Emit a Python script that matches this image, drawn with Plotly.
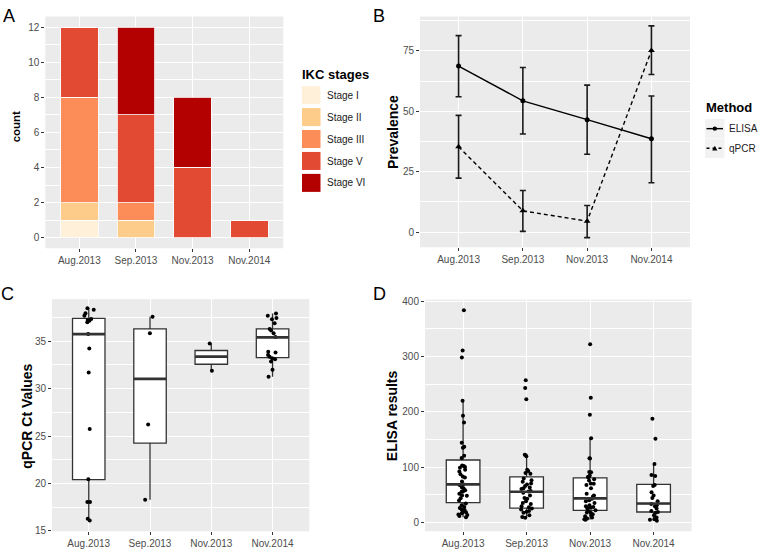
import plotly.graph_objects as go

W, H = 760, 554
FONT = "Liberation Sans, Arial, sans-serif"

# ---------------- data ----------------
periods = ["Aug.2013", "Sep.2013", "Nov.2013", "Nov.2014"]
xpos = [1, 2, 3, 4]

# Panel A: IKC stage counts per period
stage_names = ["Stage I", "Stage II", "Stage III", "Stage V", "Stage VI"]
stage_colors = ["#FEF0D9", "#FDCC8A", "#FC8D59", "#E34A33", "#B30000"]
stage1 = [1, 0, 0, 0]
stage2 = [1, 1, 0, 0]
stage3 = [6, 1, 0, 0]
stage5 = [4, 5, 4, 1]
stage6 = [0, 5, 4, 0]

# Panel B: prevalence with confidence intervals
elisa_prev = [68.7, 54.3, 46.5, 38.6]
elisa_lo = [56.0, 40.6, 32.2, 20.4]
elisa_hi = [81.3, 68.1, 60.8, 56.3]
qpcr_prev = [35.3, 8.8, 4.5, 75.1]
qpcr_lo = [22.3, 0.3, -2.3, 65.2]
qpcr_hi = [48.3, 17.2, 11.0, 85.3]

# Panel C: qPCR Ct values
ct_aug = [38.49, 38.32, 37.97, 37.70, 37.35, 37.25, 37.18, 37.00, 35.76, 34.24,
          31.72, 25.74, 20.45, 18.03, 18.03, 16.27, 16.09]
ct_sep = [37.59, 35.86, 26.22, 18.27]
ct_nov13 = [34.76, 31.89]
ct_nov14 = [37.94, 37.70, 37.45, 37.32, 36.90, 36.31, 36.14, 35.86, 35.45, 33.89,
            33.82, 33.55, 33.38, 33.20, 33.10, 32.86, 31.99, 31.27]
ct_q1 = [20.41, 24.25, 32.58, 33.27]
ct_med = [35.76, 31.03, 33.38, 35.41]
ct_q3 = [37.42, 36.31, 34.03, 36.31]
ct_lo = [16.09, 18.27, 31.89, 31.27]
ct_hi = [38.49, 37.59, 34.76, 37.94]

# Panel D: ELISA results
el_aug = [383.6, 311.2, 298.3, 220.0, 193.0, 180.7, 144.2, 137.1, 135.3, 120.6,
          116.5, 103.1, 101.9, 100.5, 98.9, 95.4, 92.0, 87.1, 83.0, 81.2, 74.2,
          68.9, 67.7, 63.0, 61.8, 58.3, 55.9, 55.3, 51.8, 48.9, 48.3, 43.6, 39.5,
          34.2, 31.3, 27.8, 26.0, 23.6, 22.4, 18.9, 18.3, 16.5, 14.2, 13.6, 11.8, 9.4]
el_sep = [257.1, 243.0, 223.0, 122.4, 119.5, 95.4, 93.0, 89.4, 88.2, 79.4, 76.5,
          73.5, 70.6, 68.8, 65.9, 63.0, 61.8, 60.5, 57.1, 55.9, 53.6, 48.9, 44.1,
          43.0, 38.3, 35.3, 33.5, 29.4, 27.6, 25.3, 23.6, 20.6, 19.4, 17.7, 13.0,
          10.0, 8.3]
el_nov13 = [322.4, 225.3, 194.8, 152.4, 115.9, 115.5, 91.2, 90.8, 85.0, 82.4, 82.2,
            78.3, 76.0, 70.6, 70.2, 67.7, 61.8, 51.8, 48.9, 47.0, 43.0, 40.0, 38.3,
            35.3, 31.0, 29.4, 28.0, 26.5, 25.3, 22.0, 20.6, 18.0, 17.7, 15.0, 13.0,
            11.0, 8.9, 7.0, 5.9, 4.7]
el_nov14 = [187.7, 151.2, 105.9, 85.9, 84.1, 67.7, 66.0, 54.7, 48.9, 44.1, 38.3,
            33.5, 31.0, 29.4, 25.3, 20.6, 19.0, 17.7, 13.0, 8.9, 5.9, 4.7, 3.0]
el_q1 = [36.0, 25.9, 21.8, 18.9]
el_med = [68.8, 55.4, 43.6, 34.2]
el_q3 = [112.9, 82.4, 80.6, 68.8]
el_lo = [9.4, 8.3, 4.7, 3.0]
el_hi = [219.5, 124.8, 152.4, 105.3]

# ---------------- helpers ----------------
def xd(a, b):
    return [a / W, b / W]

def yd(top, bottom):
    return [1 - bottom / H, 1 - top / H]

def px(x):
    return x / W

def py(y):
    return 1 - y / H

BOXW = 0.53
GRID_MAJ = 1.2
GRID_MIN = 0.6
TICKFONT = dict(family=FONT, size=10, color="#4D4D4D")

fig = go.Figure()

# ---------------- Panel A ----------------
for name, col, vals in zip(stage_names, stage_colors,
                           [stage1, stage2, stage3, stage5, stage6]):
    fig.add_trace(go.Bar(x=xpos, y=vals, name=name, width=0.66,
                         marker=dict(color=col, line=dict(color="white", width=0.8)),
                         xaxis="x", yaxis="y", showlegend=False))

# ---------------- Panel B ----------------
def errs(v, lo, hi):
    return [h - a for a, h in zip(v, hi)], [a - l for a, l in zip(v, lo)]

up, dn = errs(elisa_prev, elisa_lo, elisa_hi)
fig.add_trace(go.Scatter(x=xpos, y=elisa_prev, mode="lines+markers", name="ELISA",
                         line=dict(color="black", width=1.4),
                         marker=dict(symbol="circle", size=5, color="black"),
                         error_y=dict(type="data", symmetric=False, array=up, arrayminus=dn,
                                      color="#1A1A1A", thickness=1.6, width=3),
                         xaxis="x2", yaxis="y2", showlegend=False))
up, dn = errs(qpcr_prev, qpcr_lo, qpcr_hi)
fig.add_trace(go.Scatter(x=xpos, y=qpcr_prev, mode="lines+markers", name="qPCR",
                         line=dict(color="black", width=1.4, dash="4px,3px"),
                         marker=dict(symbol="triangle-up", size=6, color="black"),
                         error_y=dict(type="data", symmetric=False, array=up, arrayminus=dn,
                                      color="#1A1A1A", thickness=1.6, width=3),
                         xaxis="x2", yaxis="y2", showlegend=False))

# ---------------- Panels C & D (boxplots) ----------------
def add_boxpanel(xa, ya, q1, med, q3, lo, hi, groups):
    fig.add_trace(go.Box(x=xpos, q1=q1, median=med, q3=q3, lowerfence=lo, upperfence=hi,
                         width=BOXW, whiskerwidth=0, fillcolor="white",
                         line=dict(color="#333333", width=1.3), boxpoints=False,
                         xaxis=xa, yaxis=ya, showlegend=False))
    mx, my = [], []
    for x, m in zip(xpos, med):
        mx += [x - BOXW / 2, x + BOXW / 2, None]
        my += [m, m, None]
    fig.add_trace(go.Scatter(x=mx, y=my, mode="lines",
                             line=dict(color="#333333", width=2.6),
                             xaxis=xa, yaxis=ya, showlegend=False, hoverinfo="skip"))
    px_, py_ = [], []
    for x, g in zip(xpos, groups):
        px_ += [x] * len(g)
        py_ += g
    fig.add_trace(go.Box(x=px_, y=py_, boxpoints="all", jitter=0.35, pointpos=0,
                         width=BOXW, fillcolor="rgba(0,0,0,0)",
                         line=dict(color="rgba(0,0,0,0)", width=0),
                         marker=dict(color="black", size=4),
                         xaxis=xa, yaxis=ya, showlegend=False))

add_boxpanel("x3", "y3", ct_q1, ct_med, ct_q3, ct_lo, ct_hi,
             [ct_aug, ct_sep, ct_nov13, ct_nov14])
add_boxpanel("x4", "y4", el_q1, el_med, el_q3, el_lo, el_hi,
             [el_aug, el_sep, el_nov13, el_nov14])

# ---------------- axes ----------------
def xaxis(dom, anchor):
    return dict(domain=dom, anchor=anchor, range=[0.4, 4.6], tickvals=xpos,
                ticktext=periods, showgrid=True, gridcolor="white", gridwidth=GRID_MAJ,
                zeroline=False, ticks="outside", ticklen=3, tickcolor="#333333",
                tickwidth=1, tickfont=TICKFONT, showline=False, fixedrange=True)

def yaxis(dom, anchor, rng, tickvals, minor_dtick, minor_tick0):
    return dict(domain=dom, anchor=anchor, range=rng, tickvals=tickvals,
                showgrid=True, gridcolor="white", gridwidth=GRID_MAJ, zeroline=False,
                ticks="outside", ticklen=3, tickcolor="#333333", tickwidth=1,
                tickfont=TICKFONT, showline=False, fixedrange=True,
                minor=dict(dtick=minor_dtick, tick0=minor_tick0, showgrid=True,
                           gridcolor="white", gridwidth=GRID_MIN, ticks=""))

fig.update_layout(
    width=W, height=H, margin=dict(l=0, r=0, t=0, b=0),
    paper_bgcolor="white", plot_bgcolor="#EBEBEB",
    barmode="stack", boxmode="overlay", showlegend=False,
    font=dict(family=FONT),
    xaxis=xaxis(xd(45.3, 283.3), "y"),
    yaxis=yaxis(yd(12.7, 248.3), "x", [-0.6, 12.6], [0, 2, 4, 6, 8, 10, 12], 1, 0),
    xaxis2=xaxis(xd(420, 690), "y2"),
    yaxis2=yaxis(yd(12.7, 247.3), "x2", [-6.3, 89.2], [0, 25, 50, 75], 12.5, 0),
    xaxis3=xaxis(xd(52, 309.3), "y3"),
    yaxis3=yaxis(yd(300, 536), "x3", [14.95, 39.45], [15, 20, 25, 30, 35], 2.5, 15),
    xaxis4=xaxis(xd(425, 691.7), "y4"),
    yaxis4=yaxis(yd(300.5, 536), "x4", [-16, 403], [0, 100, 200, 300, 400], 50, 0),
)

ann = []
def text(x, y, s, size, bold=False, angle=0, xanchor="center", color="black"):
    ann.append(dict(x=px(x), y=py(y), xref="paper", yref="paper", text=(f"<b>{s}</b>" if bold else s),
                    showarrow=False, textangle=angle, xanchor=xanchor, yanchor="middle",
                    font=dict(family=FONT, size=size, color=color)))

# panel letters
text(9.2, 11.7, "A", 18)
text(378.5, 11.7, "B", 18)
text(7.5, 295, "C", 18)
text(379.5, 295, "D", 18)

# axis titles
text(15.7, 124.7, "count", 11.5, bold=True, angle=-90)
text(393.7, 130.5, "Prevalence", 14, bold=True, angle=-90)
text(27.5, 419, "qPCR Ct Values", 14, bold=True, angle=-90)
text(391.7, 418.3, "ELISA results", 14, bold=True, angle=-90)

shapes = []
# Legend A
text(300, 72, "IKC stages", 13, bold=True, xanchor="left")
key_tops = [83.5, 105.8, 128.1, 150.4, 172.7]
for name, col, t in zip(stage_names, stage_colors, key_tops):
    shapes.append(dict(type="rect", xref="paper", yref="paper",
                       x0=px(302), x1=px(320.5), y0=py(t + 18.3), y1=py(t),
                       fillcolor=col, line=dict(width=0)))
    text(325, t + 9.2, name, 10, xanchor="left", color="#1A1A1A")

# Legend B
text(704, 105, "Method", 13, bold=True, xanchor="left")
for i, (lab, dash) in enumerate([("ELISA", "solid"), ("qPCR", "dot")]):
    cy = 126.7 + 20 * i
    shapes.append(dict(type="rect", xref="paper", yref="paper",
                       x0=px(705), x1=px(724.5), y0=py(cy + 9.8), y1=py(cy - 9.8),
                       fillcolor="#F2F2F2", line=dict(width=0)))
    shapes.append(dict(type="line", xref="paper", yref="paper",
                       x0=px(706.5), x1=px(723), y0=py(cy), y1=py(cy),
                       line=dict(color="black", width=1.4, dash=dash)))
    if i == 0:
        shapes.append(dict(type="circle", xref="paper", yref="paper",
                           x0=px(712.6), x1=px(717), y0=py(cy + 2.2), y1=py(cy - 2.2),
                           fillcolor="black", line=dict(width=0)))
    else:
        shapes.append(dict(type="path", xref="paper", yref="paper",
                           path=f"M {px(712.2)} {py(cy + 2.2)} L {px(717.4)} {py(cy + 2.2)} L {px(714.8)} {py(cy - 2.6)} Z",
                           fillcolor="black", line=dict(width=0)))
    text(727, cy, lab, 10, xanchor="left", color="#1A1A1A")

fig.update_layout(annotations=ann, shapes=shapes)
fig.write_html("out.html", config={"displayModeBar": False},
               post_script="document.body.style.margin='0';document.body.style.overflow='hidden';")
